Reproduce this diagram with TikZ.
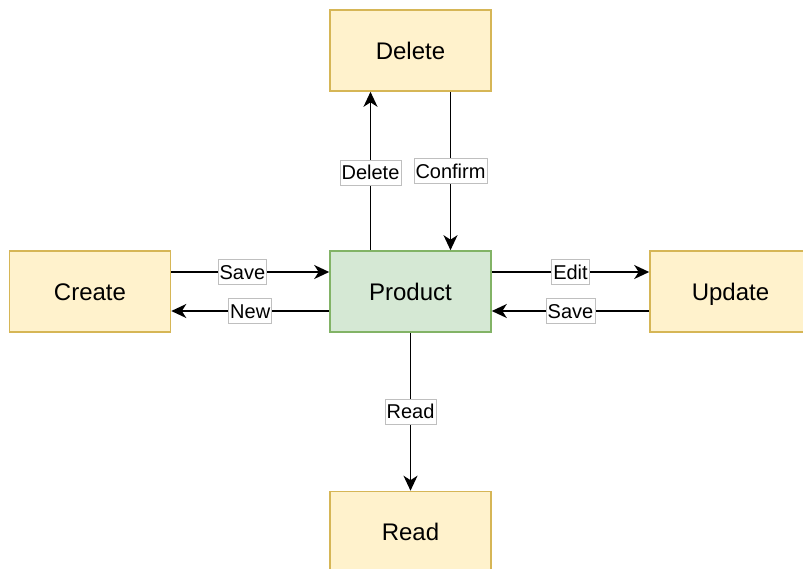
\documentclass[tikz,border=0pt]{standalone}
\usepackage{fontspec}
\setmainfont{Liberation Sans}
\usetikzlibrary{arrows.meta}
\definecolor{yfill}{HTML}{FFF2CC}
\definecolor{ydraw}{HTML}{D6B656}
\definecolor{gfill}{HTML}{D5E8D4}
\definecolor{gdraw}{HTML}{82B366}
\tikzset{
  box/.style={draw=ydraw, fill=yfill, line width=1.6pt, minimum width=161pt, minimum height=81pt, inner sep=0pt, text height=19.5pt, text depth=2.5pt, font=\fontsize{24}{28}\selectfont},
  gbox/.style={box, draw=gdraw, fill=gfill},
  arr/.style={line width=1.9pt, -{Stealth[length=15pt, width=14pt, inset=4.5pt]}},
  lbl/.style={draw=black!25, line width=0.6pt, fill=white, inner xsep=1.5pt, inner ysep=3.5pt, text height=16pt, text depth=2pt, font=\fontsize{20}{23}\selectfont}
}
\begin{document}
\begin{tikzpicture}[x=1pt, y=-1pt]
\useasboundingbox (0,0) rectangle (803,568);
\clip (0,0) rectangle (803,568);
\node[box] (del) at (410.5,50.5) {Delete};
\node[box] (cre) at (90,291.5) {Create};
\node[gbox] (prod) at (410.5,291.5) {Product};
\node[box] (upd) at (730.5,291.5) {Update};
\node[box] (read) at (410.5,532) {Read};
% delete / confirm
\draw[arr] ([xshift=-40pt]prod.north) -- ([xshift=-40pt]del.south) node[lbl, pos=0.49] (l1) {Delete};
\draw[arr] ([xshift=40pt]del.south) -- ([xshift=40pt]prod.north) node[lbl, pos=0.5] (l2) {Confirm};
% create
\draw[arr] ([yshift=19.5pt]cre.east) -- ([yshift=19.5pt]prod.west) node[lbl, pos=0.45] (l3) {Save};
\draw[arr] ([yshift=-19.5pt]prod.west) -- ([yshift=-19.5pt]cre.east) node[lbl, pos=0.5] (l4) {New};
% update
\draw[arr] ([yshift=19.5pt]prod.east) -- ([yshift=19.5pt]upd.west) node[lbl, pos=0.5] (l5) {Edit};
\draw[arr] ([yshift=-19.5pt]upd.west) -- ([yshift=-19.5pt]prod.east) node[lbl, pos=0.5] (l6) {Save};
% read
\draw[arr] (prod.south) -- (read.north) node[lbl, pos=0.5] (l7) {Read};
\end{tikzpicture}
\end{document}
